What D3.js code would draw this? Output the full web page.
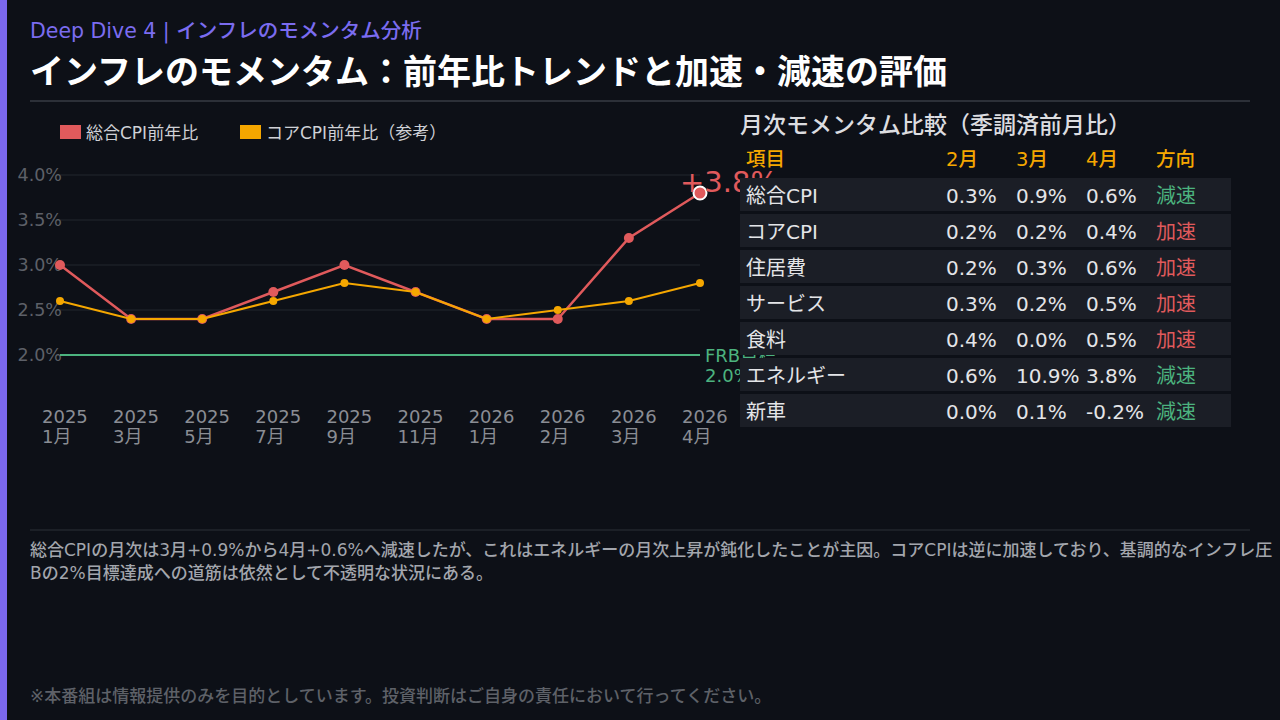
<!DOCTYPE html>
<html lang="ja">
<head>
<meta charset="utf-8">
<script src="https://cdn.jsdelivr.net/npm/d3@7"></script>
<style>
  html, body { margin: 0; padding: 0; background: #0d1017; overflow: hidden; }
  svg { display: block; font-family: "DejaVu Sans", "Noto Sans CJK JP", sans-serif; }
</style>
</head>
<body>
<div id="chart"></div>
<script>
// YoY series (monthly points shown on the chart)
const tickYears = ["2025", "2025", "2025", "2025", "2025", "2025", "2026", "2026", "2026", "2026"];
const tickMonths = ["1月", "3月", "5月", "7月", "9月", "11月", "1月", "2月", "3月", "4月"];
const headlineYoY = [3.0, 2.4, 2.4, 2.7, 3.0, 2.7, 2.4, 2.4, 3.3, 3.8];
const coreYoY = [2.6, 2.4, 2.4, 2.6, 2.8, 2.7, 2.4, 2.5, 2.6, 2.8];
const yTicks = [2.0, 2.5, 3.0, 3.5, 4.0];
const fedTarget = 2.0;

// monthly momentum table (SA MoM)
const tableItems = ["総合CPI", "コアCPI", "住居費", "サービス", "食料", "エネルギー", "新車"];
const tableMonths = ["2月", "3月", "4月"];
const febMoM = [0.3, 0.2, 0.2, 0.3, 0.4, 0.6, 0.0];
const marMoM = [0.9, 0.2, 0.3, 0.2, 0.0, 10.9, 0.1];
const aprMoM = [0.6, 0.4, 0.6, 0.5, 0.5, 3.8, -0.2];
const directions = ["減速", "加速", "加速", "加速", "加速", "減速", "減速"];

const W = 1280, H = 720;
const RED = "#e05a5c", ORANGE = "#f5a700", GREEN = "#4cb37f";

const svg = d3.select("#chart").append("svg")
  .attr("width", W).attr("height", H);

svg.append("rect").attr("width", W).attr("height", H).attr("fill", "#0d1017");
svg.append("rect").attr("width", 7).attr("height", H).attr("fill", "#7b68ee");

// header
svg.append("text").attr("x", 30).attr("y", 38)
  .attr("font-size", 20.5).attr("font-weight", 500).attr("fill", "#7b6cf0")
  .text("Deep Dive 4 | インフレのモメンタム分析");
svg.append("text").attr("x", 30).attr("y", 84)
  .attr("font-size", 34).attr("font-weight", 700).attr("fill", "#ffffff")
  .text("インフレのモメンタム：前年比トレンドと加速・減速の評価");
svg.append("line").attr("x1", 30).attr("x2", 1250).attr("y1", 101).attr("y2", 101)
  .attr("stroke", "#2c3038").attr("stroke-width", 2);

// legend
const legend = [["総合CPI前年比", RED, 60], ["コアCPI前年比（参考）", ORANGE, 240]];
legend.forEach(([label, color, lx]) => {
  svg.append("rect").attr("x", lx).attr("y", 125).attr("width", 21).attr("height", 14).attr("fill", color);
  svg.append("text").attr("x", lx + 26).attr("y", 139)
    .attr("font-size", 17).attr("fill", "#cfd1d6").text(label);
});

// line chart
const idx = d3.range(headlineYoY.length);
const x = d3.scalePoint().domain(idx).range([60, 700]);
const y = d3.scaleLinear().domain([1.5, 4.0]).range([400, 175]);

const g = svg.append("g");

g.selectAll(".grid").data(yTicks.filter(t => t !== fedTarget)).enter()
  .append("line")
  .attr("x1", 60).attr("x2", 700)
  .attr("y1", d => y(d)).attr("y2", d => y(d))
  .attr("stroke", "#22262f").attr("stroke-width", 1);

g.selectAll(".ytick").data(yTicks).enter()
  .append("text")
  .attr("x", 62).attr("y", d => y(d) + 6)
  .attr("text-anchor", "end")
  .attr("font-size", 17.5).attr("fill", "#5d6068")
  .text(d => d.toFixed(1) + "%");

g.selectAll(".xyear").data(idx).enter()
  .append("text")
  .attr("x", d => x(d) - 18).attr("y", 423)
  .attr("font-size", 18).attr("fill", "#8a8d94")
  .text(d => tickYears[d]);
g.selectAll(".xmonth").data(idx).enter()
  .append("text")
  .attr("x", d => x(d) - 18).attr("y", 443)
  .attr("font-size", 18).attr("fill", "#8a8d94")
  .text(d => tickMonths[d]);

// FRB target
g.append("line")
  .attr("x1", x(0)).attr("x2", x(idx.length - 1))
  .attr("y1", y(fedTarget)).attr("y2", y(fedTarget))
  .attr("stroke", GREEN).attr("stroke-width", 2);
const frb = g.append("text").attr("font-size", 18).attr("fill", GREEN);
frb.append("tspan").attr("x", 705).attr("y", y(fedTarget) + 7).text("FRB目標");
frb.append("tspan").attr("x", 705).attr("y", y(fedTarget) + 27).text(fedTarget.toFixed(1) + "%");

const line = d3.line().x((d, i) => x(i)).y(d => y(d));

g.append("path").datum(headlineYoY)
  .attr("fill", "none").attr("stroke", RED).attr("stroke-width", 2.5)
  .attr("d", line);
g.selectAll(".hdot").data(headlineYoY.slice(0, -1)).enter()
  .append("circle")
  .attr("cx", (d, i) => x(i)).attr("cy", d => y(d)).attr("r", 5)
  .attr("fill", RED);

g.append("path").datum(coreYoY)
  .attr("fill", "none").attr("stroke", ORANGE).attr("stroke-width", 2)
  .attr("d", line);
g.selectAll(".cdot").data(coreYoY).enter()
  .append("circle")
  .attr("cx", (d, i) => x(i)).attr("cy", d => y(d)).attr("r", 4)
  .attr("fill", ORANGE);

const last = headlineYoY.length - 1;
g.append("circle")
  .attr("cx", x(last)).attr("cy", y(headlineYoY[last])).attr("r", 6.5)
  .attr("fill", RED).attr("stroke", "#ffffff").attr("stroke-width", 2);
g.append("text")
  .attr("x", x(last) - 20).attr("y", y(headlineYoY[last]) - 1)
  .attr("font-size", 29).attr("fill", RED)
  .text("+" + headlineYoY[last].toFixed(1) + "%");

// momentum table
const tx = 740, tw = 491;
const cols = [746, 946, 1016, 1086, 1156];
svg.append("text").attr("x", tx).attr("y", 133)
  .attr("font-size", 23).attr("font-weight", 500).attr("fill", "#dcdde0")
  .text("月次モメンタム比較（季調済前月比）");

const header = ["項目", ...tableMonths, "方向"];
svg.selectAll(".th").data(header).enter()
  .append("text")
  .attr("x", (d, i) => cols[i]).attr("y", 166)
  .attr("font-size", 19.5).attr("font-weight", 500).attr("fill", ORANGE)
  .text(d => d);

const fmt = v => v.toFixed(1) + "%";
const rows = svg.selectAll(".row").data(tableItems).enter()
  .append("g")
  .attr("transform", (d, i) => `translate(0,${178 + i * 36})`);
rows.append("rect")
  .attr("x", tx).attr("width", tw).attr("height", 33)
  .attr("fill", "#1b1e26");
rows.each(function(d, i) {
  const r = d3.select(this);
  const cells = [d, fmt(febMoM[i]), fmt(marMoM[i]), fmt(aprMoM[i])];
  cells.forEach((c, j) => {
    r.append("text").attr("x", cols[j]).attr("y", 25)
      .attr("font-size", 20).attr("fill", "#e4e5e8").text(c);
  });
  r.append("text").attr("x", cols[4]).attr("y", 25)
    .attr("font-size", 20)
    .attr("fill", directions[i] === "加速" ? RED : GREEN)
    .text(directions[i]);
});

// commentary
svg.append("line").attr("x1", 30).attr("x2", 1250).attr("y1", 530).attr("y2", 530)
  .attr("stroke", "#2c3038").attr("stroke-width", 1);
const note = svg.append("text").attr("font-size", 17).attr("font-weight", 500).attr("fill", "#a3a6ad");
note.append("tspan").attr("x", 30).attr("y", 556)
  .text("総合CPIの月次は3月+0.9%から4月+0.6%へ減速したが、これはエネルギーの月次上昇が鈍化したことが主因。コアCPIは逆に加速しており、基調的なインフレ圧");
note.append("tspan").attr("x", 30).attr("y", 579)
  .text("Bの2%目標達成への道筋は依然として不透明な状況にある。");

svg.append("text").attr("x", 30).attr("y", 702)
  .attr("font-size", 17).attr("font-weight", 500).attr("fill", "#5e6168")
  .text("※本番組は情報提供のみを目的としています。投資判断はご自身の責任において行ってください。");
</script>
</body>
</html>
